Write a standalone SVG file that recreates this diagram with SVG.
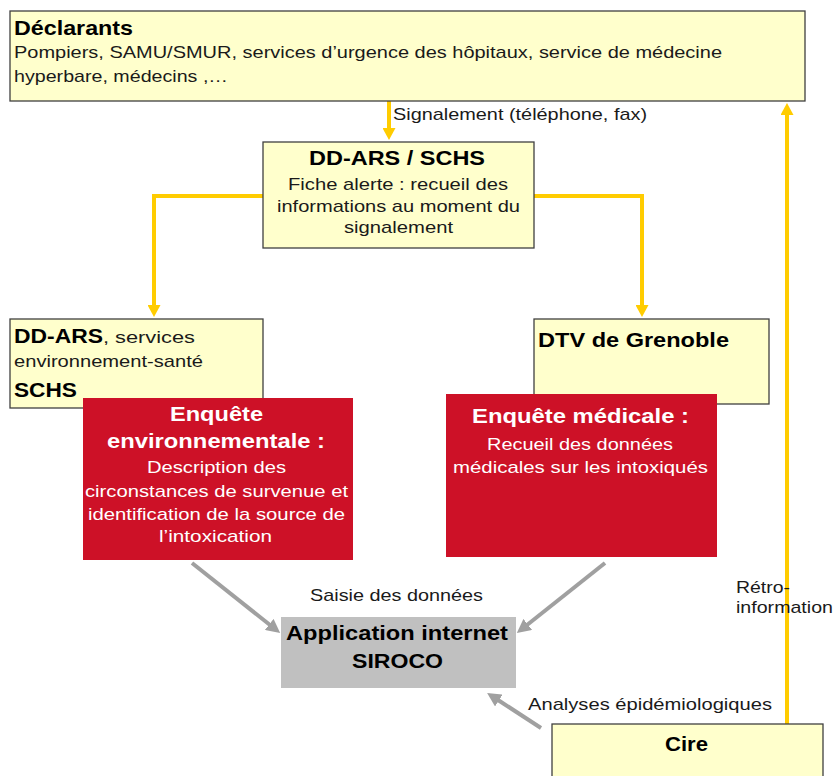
<svg xmlns="http://www.w3.org/2000/svg" width="835" height="776" viewBox="0 0 835 776">
<defs>
<style>
.box{fill:#FFFFCC;stroke:#404040;stroke-width:1.3}
.red{fill:#CD1127}
.gray{fill:#C0C0C0}
text{font-family:"Liberation Sans",Arial,sans-serif;fill:#1a1a1a}
.t{font-size:17px}
.b{font-weight:bold;font-size:21px;fill:#000}
.w{fill:#FFFFFF}
.wb{font-weight:bold;font-size:21px;fill:#FFFFFF}
.ylink{fill:none;stroke:#FFCC00;stroke-width:4}
.glink{fill:none;stroke:#A0A0A0;stroke-width:4}
</style>
<marker id="ya" viewBox="0 0 12 13" refX="1" refY="6.5" markerWidth="12" markerHeight="13" markerUnits="userSpaceOnUse" orient="auto">
<path d="M0,0 L12,6.5 L0,13 Z" fill="#FFCC00"/>
</marker>
<marker id="ga" viewBox="0 0 14 14" refX="1" refY="7" markerWidth="14" markerHeight="14" markerUnits="userSpaceOnUse" orient="auto">
<path d="M0,0 L14,7 L0,14 Z" fill="#A0A0A0"/>
</marker>
</defs>
<rect width="835" height="776" fill="#FFFFFF"/>

<g id="connectors">
<line class="ylink" x1="389" y1="101" x2="389" y2="129" marker-end="url(#ya)"/>
<polyline class="ylink" points="263,196 154,196 154,306" marker-end="url(#ya)"/>
<polyline class="ylink" points="534,196 642,196 642,306" marker-end="url(#ya)"/>
<line class="ylink" x1="787" y1="724" x2="787" y2="114" marker-end="url(#ya)"/>
<line class="glink" x1="192" y1="563" x2="270" y2="625" marker-end="url(#ga)"/>
<line class="glink" x1="605" y1="563" x2="527" y2="625" marker-end="url(#ga)"/>
<line class="glink" x1="541" y1="728" x2="498" y2="700" marker-end="url(#ga)"/>
<text class="t" x="393" y="120" textLength="254" lengthAdjust="spacingAndGlyphs">Signalement (téléphone, fax)</text>
<text class="t" x="310" y="601" textLength="173" lengthAdjust="spacingAndGlyphs">Saisie des données</text>
<text class="t" x="528" y="710" textLength="244" lengthAdjust="spacingAndGlyphs">Analyses épidémiologiques</text>
<text class="t" x="736" y="593" textLength="54" lengthAdjust="spacingAndGlyphs">Rétro-</text>
<text class="t" x="736" y="613" textLength="97" lengthAdjust="spacingAndGlyphs">information</text>
</g>

<g id="declarants">
<rect class="box" x="10" y="11" width="795" height="90"/>
<text class="b" x="14" y="35" textLength="119" lengthAdjust="spacingAndGlyphs" font-size="22">Déclarants</text>
<text class="t" x="14" y="58" textLength="708" lengthAdjust="spacingAndGlyphs">Pompiers, SAMU/SMUR, services d’urgence des hôpitaux, service de médecine</text>
<text class="t" x="14" y="82" textLength="214" lengthAdjust="spacingAndGlyphs">hyperbare, médecins ,…</text>
</g>

<g id="ddars-schs">
<rect class="box" x="263" y="142" width="271" height="106"/>
<text class="b" x="309" y="165" textLength="176" lengthAdjust="spacingAndGlyphs">DD-ARS / SCHS</text>
<text class="t" x="288" y="190" textLength="220" lengthAdjust="spacingAndGlyphs">Fiche alerte : recueil des</text>
<text class="t" x="277" y="212" textLength="243" lengthAdjust="spacingAndGlyphs">informations au moment du</text>
<text class="t" x="344" y="233" textLength="109" lengthAdjust="spacingAndGlyphs">signalement</text>
</g>

<g id="ddars-services">
<rect class="box" x="10" y="319" width="253" height="89"/>
<text class="b" x="14" y="343" textLength="89" lengthAdjust="spacingAndGlyphs" font-size="22">DD-ARS</text>
<text class="t" x="103" y="343" textLength="92" lengthAdjust="spacingAndGlyphs">, services</text>
<text class="t" x="14" y="367" textLength="189" lengthAdjust="spacingAndGlyphs">environnement-santé</text>
<text class="b" x="14" y="397" textLength="63" lengthAdjust="spacingAndGlyphs" font-size="22">SCHS</text>
</g>

<g id="dtv">
<rect class="box" x="534" y="319" width="235" height="85"/>
<text class="b" x="538" y="347" textLength="191" lengthAdjust="spacingAndGlyphs">DTV de Grenoble</text>
</g>

<g id="enquete-env">
<rect class="red" x="83" y="398" width="270" height="162"/>
<text class="wb" x="170" y="421" textLength="93" lengthAdjust="spacingAndGlyphs">Enquête</text>
<text class="wb" x="107" y="448" textLength="218" lengthAdjust="spacingAndGlyphs">environnementale :</text>
<text class="t w" x="147" y="473" textLength="139" lengthAdjust="spacingAndGlyphs">Description des</text>
<text class="t w" x="85" y="497" textLength="263" lengthAdjust="spacingAndGlyphs">circonstances de survenue et</text>
<text class="t w" x="88" y="520" textLength="257" lengthAdjust="spacingAndGlyphs">identification de la source de</text>
<text class="t w" x="159" y="542" textLength="113" lengthAdjust="spacingAndGlyphs">l’intoxication</text>
</g>

<g id="enquete-med">
<rect class="red" x="446" y="394" width="271" height="163"/>
<text class="wb" x="472" y="423" textLength="217" lengthAdjust="spacingAndGlyphs">Enquête médicale :</text>
<text class="t w" x="487" y="450" textLength="186" lengthAdjust="spacingAndGlyphs">Recueil des données</text>
<text class="t w" x="453" y="473" textLength="255" lengthAdjust="spacingAndGlyphs">médicales sur les intoxiqués</text>
</g>

<g id="siroco">
<rect class="gray" x="281" y="617" width="235" height="71"/>
<text class="b" x="286" y="640" textLength="222" lengthAdjust="spacingAndGlyphs">Application internet</text>
<text class="b" x="352" y="668" textLength="91" lengthAdjust="spacingAndGlyphs">SIROCO</text>
</g>

<g id="cire">
<rect class="box" x="552" y="724" width="271" height="60"/>
<text class="b" x="665" y="751" textLength="43" lengthAdjust="spacingAndGlyphs">Cire</text>
</g>
</svg>
